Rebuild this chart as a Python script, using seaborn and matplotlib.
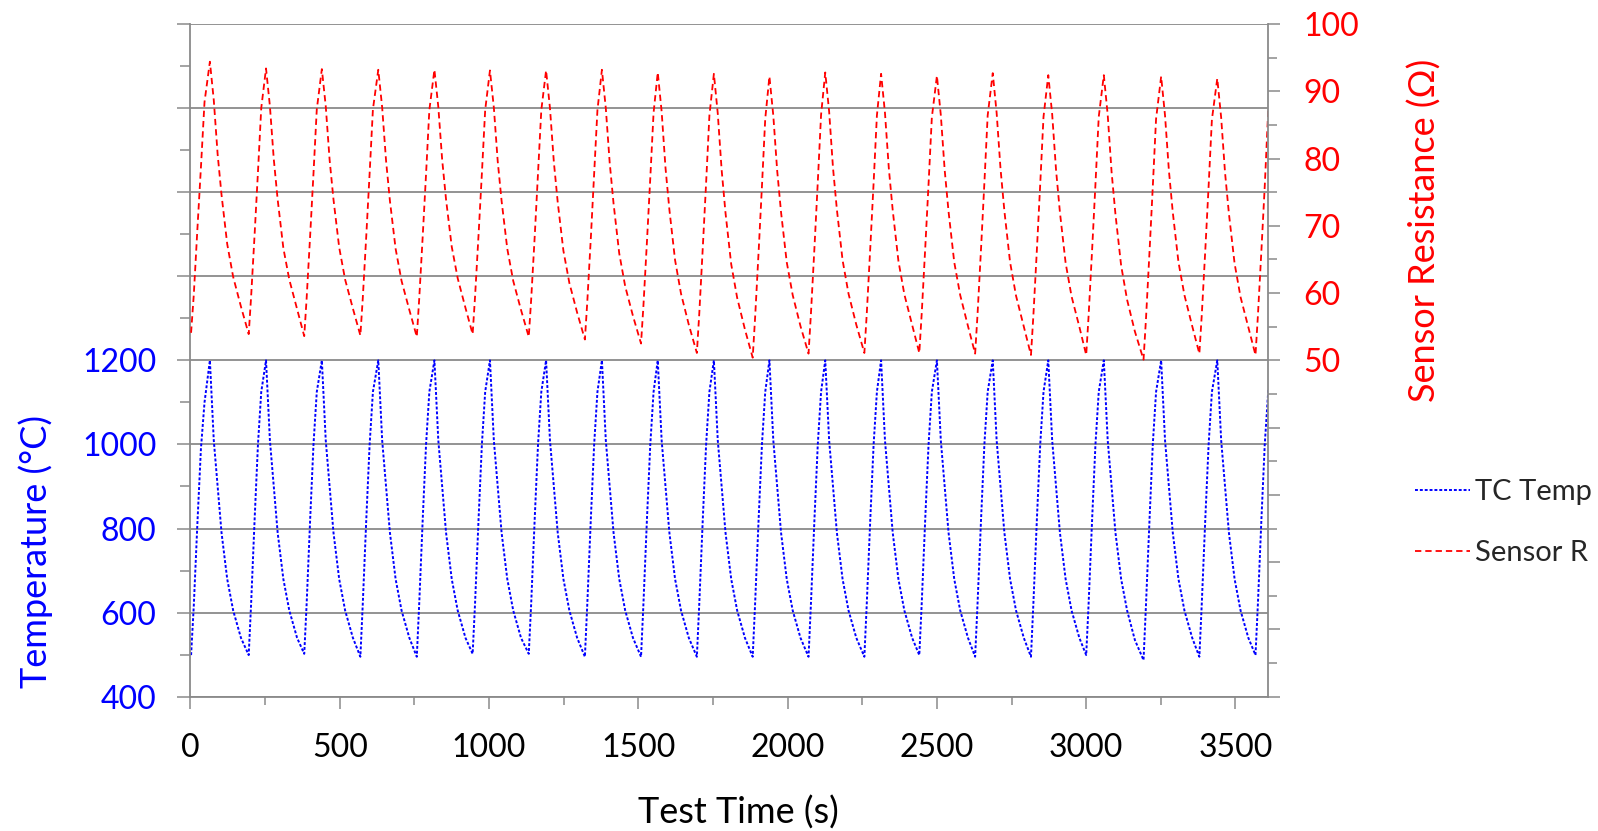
import matplotlib
matplotlib.use("Agg")
import matplotlib.pyplot as plt
from matplotlib.ticker import MultipleLocator, FuncFormatter
import numpy as np
import pandas as pd
import seaborn as sns

# Heating cycles: one row per cycle (trough, rise, peak, cool-down)
cycle_time_s = [
    [2, 11, 23, 35, 47, 65, 78, 91, 104, 123, 143, 169],
    [195, 203, 215, 226, 237, 253, 266, 279, 292, 311, 331, 357],
    [381, 389, 401, 412, 423, 440, 453, 466, 479, 498, 518, 544],
    [569, 577, 589, 600, 611, 629, 642, 655, 668, 687, 707, 733],
    [758, 766, 778, 789, 800, 817, 830, 843, 856, 875, 895, 921],
    [945, 953, 965, 976, 987, 1003, 1016, 1029, 1042, 1061, 1081, 1107],
    [1133, 1141, 1153, 1164, 1175, 1191, 1204, 1217, 1230, 1249, 1269, 1295],
    [1321, 1329, 1341, 1352, 1363, 1378, 1391, 1404, 1417, 1436, 1456, 1482],
    [1509, 1517, 1529, 1540, 1551, 1565, 1578, 1591, 1604, 1623, 1643, 1669],
    [1696, 1704, 1716, 1727, 1738, 1753, 1766, 1779, 1792, 1811, 1831, 1857],
    [1883, 1891, 1903, 1914, 1925, 1939, 1952, 1965, 1978, 1997, 2017, 2043],
    [2070, 2078, 2090, 2101, 2112, 2126, 2139, 2152, 2165, 2184, 2204, 2230],
    [2257, 2265, 2277, 2288, 2299, 2313, 2326, 2339, 2352, 2371, 2391, 2417],
    [2441, 2449, 2461, 2472, 2483, 2500, 2513, 2526, 2539, 2558, 2578, 2604],
    [2628, 2636, 2648, 2659, 2670, 2687, 2700, 2713, 2726, 2745, 2765, 2791],
    [2815, 2823, 2835, 2846, 2857, 2873, 2886, 2899, 2912, 2931, 2951, 2977],
    [3000, 3008, 3020, 3031, 3042, 3059, 3072, 3085, 3098, 3117, 3137, 3163],
    [3192, 3200, 3212, 3223, 3234, 3251, 3264, 3277, 3290, 3309, 3329, 3355],
    [3379, 3387, 3399, 3410, 3421, 3439, 3452, 3465, 3478, 3497, 3517, 3543],
    [3567, 3575, 3587, 3598, 3610],
]

tc_temp_c = [
    [499, 615, 810, 990, 1100, 1200, 1010, 900, 790, 680, 605, 540],
    [499, 620, 825, 1000, 1125, 1200, 1010, 900, 790, 680, 605, 540],
    [502, 620, 825, 1000, 1125, 1200, 1010, 900, 790, 680, 605, 540],
    [495, 620, 825, 1000, 1125, 1200, 1010, 900, 790, 680, 605, 540],
    [495, 620, 825, 1000, 1125, 1200, 1010, 900, 790, 680, 605, 540],
    [502, 620, 825, 1000, 1125, 1200, 1010, 900, 790, 680, 605, 540],
    [502, 620, 825, 1000, 1125, 1200, 1010, 900, 790, 680, 605, 540],
    [495, 620, 825, 1000, 1125, 1200, 1010, 900, 790, 680, 605, 540],
    [495, 620, 825, 1000, 1125, 1200, 1010, 900, 790, 680, 605, 540],
    [495, 620, 825, 1000, 1125, 1200, 1010, 900, 790, 680, 605, 540],
    [495, 620, 825, 1000, 1125, 1200, 1010, 900, 790, 680, 605, 540],
    [495, 620, 825, 1000, 1125, 1200, 1010, 900, 790, 680, 605, 540],
    [495, 620, 825, 1000, 1125, 1200, 1010, 900, 790, 680, 605, 540],
    [499, 620, 825, 1000, 1125, 1200, 1010, 900, 790, 680, 605, 540],
    [495, 620, 825, 1000, 1125, 1200, 1010, 900, 790, 680, 605, 540],
    [495, 620, 825, 1000, 1125, 1200, 1010, 900, 790, 680, 605, 540],
    [499, 620, 825, 1000, 1125, 1200, 1010, 900, 790, 680, 605, 535],
    [487, 615, 820, 1000, 1125, 1200, 1010, 900, 790, 680, 605, 540],
    [495, 620, 825, 1000, 1125, 1200, 1010, 900, 790, 680, 605, 540],
    [499, 620, 825, 1000, 1130],
]

sensor_r_ohm = [
    [54.1, 59.7, 69.4, 78.7, 88.4, 94.4, 88.7, 80.6, 74.6, 67.3, 62.4, 58.0],
    [53.9, 59.4, 68.9, 78.0, 87.5, 93.4, 87.8, 79.9, 73.9, 66.7, 62.0, 57.6],
    [53.6, 59.2, 68.7, 77.8, 87.3, 93.3, 87.8, 79.8, 73.9, 66.8, 62.0, 57.7],
    [53.7, 59.2, 68.7, 77.8, 87.3, 93.2, 87.6, 79.7, 73.7, 66.6, 61.8, 57.5],
    [53.5, 59.1, 68.6, 77.7, 87.2, 93.2, 87.7, 79.8, 73.9, 66.9, 62.2, 57.8],
    [53.9, 59.4, 68.8, 77.8, 87.2, 93.1, 87.6, 79.6, 73.7, 66.6, 61.8, 57.5],
    [53.5, 59.0, 68.5, 77.7, 87.2, 93.1, 87.5, 79.5, 73.5, 66.3, 61.5, 57.1],
    [53.1, 58.7, 68.3, 77.6, 87.2, 93.2, 87.5, 79.4, 73.3, 65.9, 61.0, 56.6],
    [52.5, 58.1, 67.8, 77.1, 86.8, 92.8, 87.0, 78.6, 72.4, 64.9, 59.9, 55.3],
    [51.1, 56.9, 66.9, 76.4, 86.4, 92.6, 86.7, 78.3, 71.9, 64.3, 59.3, 54.6],
    [50.4, 56.3, 66.3, 75.9, 85.9, 92.2, 86.4, 78.2, 72.0, 64.6, 59.7, 55.1],
    [51.0, 56.9, 66.9, 76.5, 86.5, 92.8, 87.0, 78.6, 72.4, 64.9, 59.9, 55.3],
    [51.1, 56.9, 66.9, 76.4, 86.4, 92.6, 86.8, 78.5, 72.3, 64.8, 59.8, 55.3],
    [51.1, 56.9, 66.8, 76.2, 86.1, 92.3, 86.5, 78.3, 72.1, 64.6, 59.7, 55.1],
    [51.0, 56.8, 66.8, 76.4, 86.4, 92.7, 86.8, 78.5, 72.2, 64.6, 59.6, 55.0],
    [50.8, 56.6, 66.6, 76.2, 86.2, 92.4, 86.6, 78.3, 72.0, 64.5, 59.5, 55.0],
    [50.8, 56.6, 66.6, 76.2, 86.2, 92.4, 86.5, 78.0, 71.7, 64.1, 59.0, 54.3],
    [50.1, 56.0, 66.1, 75.8, 85.9, 92.2, 86.4, 78.2, 72.0, 64.6, 59.7, 55.1],
    [51.0, 56.7, 66.5, 75.9, 85.8, 91.9, 86.1, 77.9, 71.8, 64.4, 59.4, 54.9],
    [50.8, 56.6, 66.5, 75.9, 87.5],
]

x_ticks = [0, 500, 1000, 1500, 2000, 2500, 3000, 3500]

df = pd.DataFrame({
    "time": [t for row in cycle_time_s for t in row],
    "temp": [v for row in tc_temp_c for v in row],
    "res": [v for row in sensor_r_ohm for v in row],
})

sns.set_style("white")
plt.rcParams["font.family"] = ["Lato", "DejaVu Sans"]

GRAY = "#8a8a8a"
BLUE = "#0000ff"
RED = "#ff0000"

fig = plt.figure(figsize=(15.98, 8.31), dpi=100)
ax = fig.add_axes([0.1192, 0.1616, 0.6745, 0.8095])
ax2 = ax.twinx()

sns.lineplot(data=df, x="time", y="temp", ax=ax, color=BLUE, linewidth=1.4,
             linestyle=(0, (1.5, 1.0)), estimator=None, legend=False,
             label="TC Temp")
sns.lineplot(data=df, x="time", y="res", ax=ax2, color=RED, linewidth=1.3,
             linestyle=(0, (3.5, 2.2)), estimator=None, legend=False,
             label="Sensor R")

ax.set_xlim(0, 3610)
ax.set_ylim(400, 2000)
ax2.set_ylim(0, 100)

# left axis: gridlines every 200, labels only in the temperature band
ax.yaxis.set_major_locator(MultipleLocator(200))
ax.yaxis.set_minor_locator(MultipleLocator(100))
ax.yaxis.set_major_formatter(FuncFormatter(lambda v, p: f"{v:.0f}" if v <= 1200 else ""))
ax.set_xticks(x_ticks)
ax.xaxis.set_minor_locator(MultipleLocator(250))

# right axis: labels only in the resistance band
ax2.yaxis.set_major_locator(MultipleLocator(10))
ax2.yaxis.set_minor_locator(MultipleLocator(5))
ax2.yaxis.set_major_formatter(FuncFormatter(lambda v, p: f"{v:.0f}" if v >= 50 else ""))

ax.grid(True, axis="y", which="major", color=GRAY, linewidth=1.3)
ax.grid(False, axis="x")
ax2.grid(False)

for a in (ax, ax2):
    for s in a.spines.values():
        s.set_visible(False)
ax.spines["left"].set_visible(True)
ax.spines["bottom"].set_visible(True)
ax2.spines["right"].set_visible(True)
for s in (ax.spines["left"], ax.spines["bottom"], ax2.spines["right"]):
    s.set_color(GRAY)
    s.set_linewidth(1.3)

ax.tick_params(axis="y", which="major", direction="out", length=9.5, width=1.1,
               color=GRAY, labelcolor=BLUE, labelsize=23, pad=15, left=True)
ax.tick_params(axis="y", which="minor", direction="out", length=7, width=1.1,
               color=GRAY, left=True)
ax.tick_params(axis="x", which="major", direction="out", length=8.5, width=1.1,
               color=GRAY, labelcolor="black", labelsize=23, pad=17.5, bottom=True)
ax.tick_params(axis="x", which="minor", direction="out", length=6, width=1.1,
               color=GRAY, bottom=True)
ax2.tick_params(axis="y", which="major", direction="out", length=8.5, width=1.1,
                color=GRAY, labelcolor=RED, labelsize=23, pad=17, right=True)
ax2.tick_params(axis="y", which="minor", direction="out", length=6.5, width=1.1,
                color=GRAY, right=True)

ax.set_xlabel("Test Time (s)", fontsize=26, color="black")
ax.xaxis.label.set_va("center")
ax.xaxis.set_label_coords(0.508, -0.172)

ax.set_ylabel("Temperature (°C)", fontsize=26, color=BLUE)
ax.yaxis.label.set_va("center")
ax.yaxis.set_label_coords(-0.1433, 0.2166)

ax2.set_ylabel("Sensor Resistance (Ω)", fontsize=26, color=RED, rotation=90)
ax2.yaxis.label.set_va("center")
ax2.yaxis.set_label_coords(1.1454, 0.6938)

h1, l1 = ax.get_legend_handles_labels()
h2, l2 = ax2.get_legend_handles_labels()
for a in (ax, ax2):
    if a.get_legend() is not None:
        a.get_legend().remove()
ax2.legend(h1 + h2, l1 + l2, loc="center left", bbox_to_anchor=(0.8855, 0.371),
           bbox_transform=fig.transFigure, frameon=False, fontsize=21,
           handlelength=1.88, handletextpad=0.17, labelspacing=1.18,
           borderpad=0, borderaxespad=0)

fig.savefig("out.png", dpi=100)
